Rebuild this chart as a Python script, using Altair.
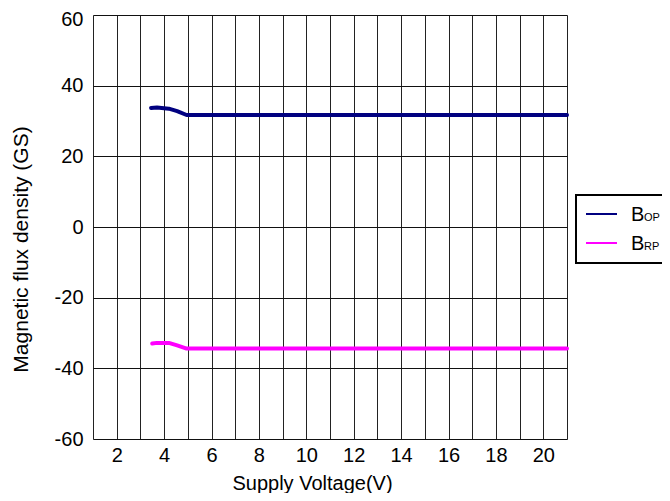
import altair as alt
import pandas as pd

# Data
series_names = ["BOP", "BRP"]
series_colors = ["#000080", "#FF00FF"]

bop_v = [3.45, 3.7, 4.2, 4.55, 4.95, 21.0]
bop_b = [33.7, 33.8, 33.5, 32.8, 31.7, 31.7]
brp_v = [3.5, 3.7, 4.2, 4.55, 4.95, 21.0]
brp_b = [-33.0, -32.8, -32.8, -33.5, -34.4, -34.4]

x_grid_values = list(range(1, 22))
y_tick_values = [-60, -40, -20, 0, 20, 40, 60]

legend_main = ["B", "B"]
legend_sub = ["OP", "RP"]

FONT = "Liberation Sans"

df = pd.concat([
    pd.DataFrame({"V": bop_v, "B": bop_b, "series": series_names[0], "o": range(len(bop_v))}),
    pd.DataFrame({"V": brp_v, "B": brp_b, "series": series_names[1], "o": range(len(brp_v))}),
])

lines = alt.Chart(df).mark_line(strokeWidth=4, strokeCap="round", strokeJoin="round").encode(
    x=alt.X("V:Q",
            scale=alt.Scale(domain=[1, 21], nice=False, zero=False),
            axis=alt.Axis(values=x_grid_values,
                          labelExpr="(datum.value % 2 == 0 && datum.value < 21) ? '' + datum.value : ''",
                          title="Supply Voltage(V)",
                          grid=True, gridColor="#222", gridWidth=1, gridOpacity=1,
                          ticks=False, tickSize=0, domain=False,
                          labelFont=FONT, labelFontSize=20, labelColor="black",
                          labelBaseline="alphabetic", labelPadding=22,
                          labelOverlap=False, labelFlush=False,
                          titleFont=FONT, titleFontSize=20, titleFontWeight="normal", titleColor="black",
                          titleX=219, titleY=50, titleBaseline="alphabetic", titleAlign="center")),
    y=alt.Y("B:Q",
            scale=alt.Scale(domain=[-60, 60], nice=False, zero=False),
            axis=alt.Axis(values=y_tick_values,
                          labelExpr="'' + datum.value",
                          title="Magnetic flux density (GS)",
                          grid=True, gridColor="#111", gridWidth=1, gridOpacity=1,
                          ticks=False, tickSize=0, domain=False,
                          labelFont=FONT, labelFontSize=20, labelColor="black",
                          labelPadding=10, labelOverlap=False, labelFlush=False,
                          labelOffset={"condition": {"test": "datum.value == 60", "value": 4}, "value": 0},
                          titleFont=FONT, titleFontSize=21, titleFontWeight="normal", titleColor="black",
                          titleX=-66, titleY=234, titleBaseline="alphabetic", titleAlign="center",
                          titleAngle=270)),
    color=alt.Color("series:N", scale=alt.Scale(domain=series_names, range=series_colors), legend=None),
    order="o:Q",
)

one = pd.DataFrame({"a": [0]})

legend_box = alt.Chart(one).mark_rect(fill="white", stroke="black", strokeWidth=2).encode(
    x=alt.value(483), x2=alt.value(620), y=alt.value(180), y2=alt.value(248)
)

legend_layers = [legend_box]
legend_rows_y = [199, 228]
for i in range(len(series_names)):
    ly = legend_rows_y[i]
    legend_layers.append(
        alt.Chart(one).mark_rule(strokeWidth=2, color=series_colors[i]).encode(
            x=alt.value(493), x2=alt.value(524), y=alt.value(ly)
        )
    )
    legend_layers.append(
        alt.Chart(one).mark_text(align="left", baseline="alphabetic", font=FONT, fontSize=20,
                                 color="black").encode(
            x=alt.value(538), y=alt.value(ly + 7), text=alt.value(legend_main[i])
        )
    )
    legend_layers.append(
        alt.Chart(one).mark_text(align="left", baseline="alphabetic", font=FONT, fontSize=11,
                                 color="black").encode(
            x=alt.value(551), y=alt.value(ly + 7), text=alt.value(legend_sub[i])
        )
    )

chart = alt.layer(lines, *legend_layers).properties(
    width=474, height=424,
    padding={"left": 85, "top": 7, "right": 95, "bottom": 54},
    autosize=alt.AutoSizeParams(type="none"),
).configure_view(stroke="black", strokeWidth=1).configure(background="white")

chart.save("out.html", embed_options={"renderer": "svg", "actions": False})
